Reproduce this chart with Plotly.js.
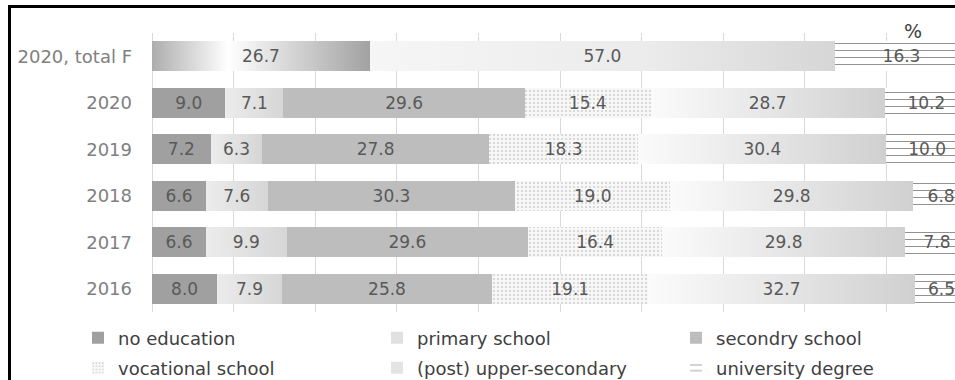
<!DOCTYPE html>
<html>
<head>
<meta charset="utf-8">
<script src="https://cdn.plot.ly/plotly-3.0.1.min.js"></script>
<style>
  html, body { margin: 0; padding: 0; overflow: hidden; background: #fff; width: 955px; height: 380px; }
  #chart { position: absolute; left: 0; top: 0; }
  #frame { position: absolute; left: 8px; top: 5px; width: 1000px; height: 420px;
           border-left: 3px solid #000; border-top: 3px solid #000; pointer-events: none; }
</style>
</head>
<body>
<div id="chart"></div>
<div id="frame"></div>
<script>
// Row labels (top to bottom)
const rows = ['2020, total F', '2020', '2019', '2018', '2017', '2016'];
const yearRows = ['2020', '2019', '2018', '2017', '2016'];

// Share of each education level per year, %
const noEducation    = [9.0, 7.2, 6.6, 6.6, 8.0];
const primarySchool  = [7.1, 6.3, 7.6, 9.9, 7.9];
const secondarySchool = [29.6, 27.8, 30.3, 29.6, 25.8];
const vocationalSchool = [15.4, 18.3, 19.0, 16.4, 19.1];
const upperSecondary = [28.7, 30.4, 29.8, 29.8, 32.7];
const universityDegree = [10.2, 10.0, 6.8, 7.8, 6.5];

// 2020 totals for women, three broad levels
const totalFRow = ['2020, total F'];
const totalFLow = [26.7];
const totalFMid = [57.0];
const totalFHigh = [16.3];

const labelFont = { family: 'DejaVu Sans', size: 17, color: '#595959' };

function barTrace(name, ys, xs, marker, legend) {
  const t = {
    type: 'bar', orientation: 'h', name: name,
    y: ys, x: xs,
    marker: Object.assign({ line: { width: 0 } }, marker),
    texttemplate: '%{x:.1f}', textposition: 'inside', insidetextanchor: 'middle',
    textangle: 0, insidetextfont: labelFont, constraintext: 'none',
    showlegend: !!legend, hoverinfo: 'skip'
  };
  if (legend) t.legend = legend;
  return t;
}

const dotted = { shape: '.', fgcolor: '#b0b0b0', bgcolor: '#f7f7f7', size: 4, solidity: 0.12 };
const lined  = { shape: '-', fgcolor: '#8f8f8f', bgcolor: '#ffffff', size: 7, solidity: 0.14 };

const traces = [
  barTrace('no education', yearRows, noEducation, { color: '#a0a0a0' }, 'legend'),
  barTrace('primary school', yearRows, primarySchool, { color: '#e0e0e0' }, 'legend'),
  barTrace('secondry school', yearRows, secondarySchool, { color: '#bdbdbd' }, 'legend'),
  barTrace('vocational school', yearRows, vocationalSchool, { color: '#f7f7f7', pattern: dotted }, 'legend2'),
  barTrace('(post) upper-secondary', yearRows, upperSecondary, { color: '#e4e4e4' }, 'legend2'),
  barTrace('university degree', yearRows, universityDegree, { color: '#ffffff', pattern: lined }, 'legend2'),
  barTrace('total F low', totalFRow, totalFLow, { color: '#d0d0d0' }, null),
  barTrace('total F mid', totalFRow, totalFMid, { color: '#ececec' }, null),
  barTrace('total F high', totalFRow, totalFHigh, { color: '#ffffff', pattern: lined }, null)
];

// Gradient fills applied per trace index once the bars are drawn
const gradients = {
  1: [[0, '#ececec'], [1, '#d6d6d6']],
  4: [[0, '#fbfbfb'], [0.5, '#e6e6e6'], [1, '#d0d0d0']],
  6: [[0, '#adadad'], [0.35, '#ffffff'], [1, '#a2a2a2']],
  7: [[0, '#f6f6f6'], [0.6, '#ebebeb'], [1, '#d6d6d6']]
};

const legendBase = {
  orientation: 'h', traceorder: 'normal',
  x: -0.055, xanchor: 'left', yanchor: 'top',
  entrywidth: 254, entrywidthmode: 'pixels',
  font: { family: 'DejaVu Sans', size: 18, color: '#404040' },
  bgcolor: 'rgba(0,0,0,0)'
};

const W = 975, H = 400;
const layout = {
  width: W, height: H,
  margin: { l: 152, r: 7, t: 33, b: 88 },
  paper_bgcolor: '#ffffff', plot_bgcolor: '#ffffff',
  font: { family: 'DejaVu Sans', color: '#595959' },
  barmode: 'stack', bargap: 0.355,
  xaxis: {
    range: [0, 100], dtick: 10, showticklabels: false, ticks: '',
    showgrid: true, gridcolor: '#d9d9d9', gridwidth: 1,
    zeroline: true, zerolinecolor: '#d9d9d9', zerolinewidth: 1,
    showline: false, fixedrange: true
  },
  yaxis: {
    type: 'category', categoryorder: 'array', categoryarray: rows,
    autorange: 'reversed', ticks: '', showgrid: false, showline: false,
    tickfont: { family: 'DejaVu Sans', size: 18, color: '#808080' },
    ticklabelstandoff: 19, fixedrange: true
  },
  legend: Object.assign({}, legendBase, { y: -0.027 }),
  legend2: Object.assign({}, legendBase, { y: -0.135 }),
  annotations: [{
    text: '%', xref: 'paper', yref: 'paper', x: 0.9326, y: 1.007,
    xanchor: 'center', yanchor: 'middle', showarrow: false,
    font: { family: 'DejaVu Sans', size: 19, color: '#404040' }
  }]
};

Plotly.newPlot('chart', traces, layout, { displayModeBar: false, staticPlot: true }).then(function (gd) {
  const ns = 'http://www.w3.org/2000/svg';
  const svg = gd.querySelector('svg.main-svg');
  let defs = svg.querySelector('defs');
  if (!defs) { defs = document.createElementNS(ns, 'defs'); svg.insertBefore(defs, svg.firstChild); }
  Object.keys(gradients).forEach(function (k) {
    const g = document.createElementNS(ns, 'linearGradient');
    g.setAttribute('id', 'barGrad' + k);
    g.setAttribute('x1', '0'); g.setAttribute('y1', '0');
    g.setAttribute('x2', '1'); g.setAttribute('y2', '0');
    gradients[k].forEach(function (s) {
      const st = document.createElementNS(ns, 'stop');
      st.setAttribute('offset', s[0]);
      st.setAttribute('stop-color', s[1]);
      g.appendChild(st);
    });
    defs.appendChild(g);
  });
  gd.querySelectorAll('.barlayer .trace.bars').forEach(function (grp) {
    const d = grp.__data__;
    const idx = d && d[0] && d[0].trace ? d[0].trace.index : null;
    if (idx === null || !gradients[idx]) return;
    grp.querySelectorAll('.point path').forEach(function (p) {
      p.style.fill = 'url(#barGrad' + idx + ')';
    });
  });
});
</script>
</body>
</html>
